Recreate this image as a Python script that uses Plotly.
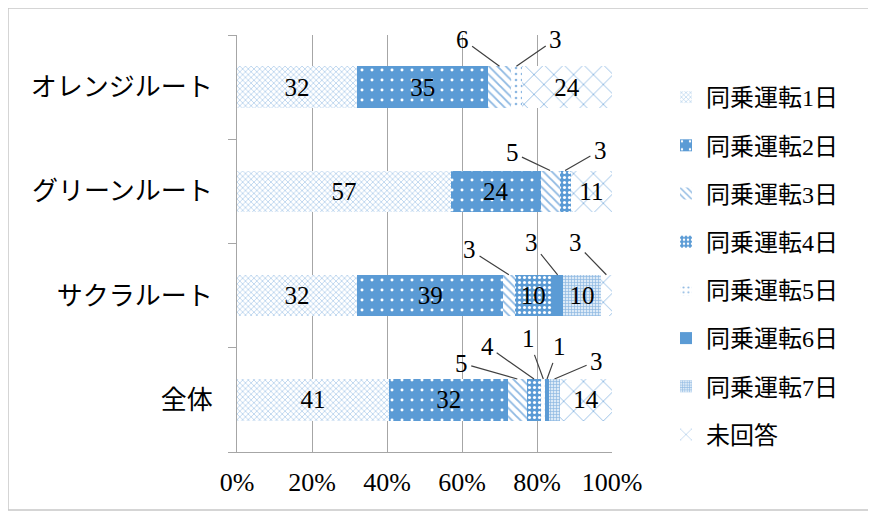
import plotly.graph_objects as go

categories = ["全体", "サクラルート", "グリーンルート", "オレンジルート"]
series_names = ["同乗運転1日", "同乗運転2日", "同乗運転3日", "同乗運転4日",
                "同乗運転5日", "同乗運転6日", "同乗運転7日", "未回答"]
day1 = [41, 32, 57, 32]
day2 = [32, 39, 24, 35]
day3 = [5, 3, 5, 6]
day4 = [4, 10, 3, 0]
day5 = [1, 0, 0, 3]
day6 = [1, 3, 0, 0]
day7 = [3, 10, 0, 0]
no_answer = [14, 3, 11, 24]
series_values = [day1, day2, day3, day4, day5, day6, day7, no_answer]
x_tick_vals = [0, 20, 40, 60, 80, 100]
x_tick_text = ["0%", "20%", "40%", "60%", "80%", "100%"]

BLUE = "#5B9BD5"
LIGHT = "#8DB8E2"
styles = [
    dict(shape="x", fgcolor=LIGHT, bgcolor="white", size=4, solidity=0.25),
    dict(shape=".", fgcolor="white", bgcolor=BLUE, size=10, solidity=0.07),
    dict(shape="\\", fgcolor=LIGHT, bgcolor="white", size=6, solidity=0.3),
    dict(shape=".", fgcolor="white", bgcolor=BLUE, size=5, solidity=0.3),
    dict(shape=".", fgcolor=LIGHT, bgcolor="white", size=6, solidity=0.15),
    dict(shape="", fgcolor=BLUE, bgcolor=BLUE, size=6, solidity=0.5),
    dict(shape="+", fgcolor=LIGHT, bgcolor="#DCEAF7", size=3, solidity=0.4),
    dict(shape="x", fgcolor=LIGHT, bgcolor="white", size=14, solidity=0.12),
]

NUMFONT = "Liberation Serif, Noto Sans CJK JP, serif"
fig = go.Figure()
for name, vals, st in zip(series_names, series_values, styles):
    txt = [str(v) if v >= 10 else "" for v in vals]
    fig.add_trace(go.Bar(
        y=categories, x=vals, name=name, orientation="h",
        legendgroup=name,
        marker=dict(color=st["bgcolor"], line=dict(width=0),
                    pattern=dict(shape=st["shape"], fgcolor=st["fgcolor"],
                                 bgcolor=st["bgcolor"], size=st["size"],
                                 solidity=st["solidity"], fillmode="replace")),
        text=txt, textposition="inside", insidetextanchor="middle",
        textangle=0, constraintext="none",
        textfont=dict(family=NUMFONT, size=25, color="black"),
        hoverinfo="name+x",
    ))

# leader-line labels for small segments (pixel offsets of the label from the segment top)
offsets = {
    (3, 2): (-37, -27), (3, 4): (39, -27),
    (2, 2): (-38, -18), (2, 3): (35, -20),
    (1, 2): (-39, -25), (1, 5): (-26, -32), (1, 7): (-31, -32),
    (0, 2): (-56, -16), (0, 3): (-47, -33), (0, 4): (-15, -41),
    (0, 5): (12, -33), (0, 6): (42, -18),
}
annotations = []
for ci, cat in enumerate(categories):
    total = sum(s[ci] for s in series_values)
    cum = 0
    for si, s in enumerate(series_values):
        v = s[ci]
        if 0 < v < 10 and (ci, si) in offsets:
            ax, ay = offsets[(ci, si)]
            annotations.append(dict(
                x=(cum + v / 2) / total * 100, y=ci + 0.2, xref="x", yref="y",
                text=str(v), showarrow=True, arrowhead=0, arrowwidth=1.2,
                arrowcolor="#404040", ax=ax, ay=ay, standoff=0, startstandoff=2,
                font=dict(family=NUMFONT, size=25, color="black")))
        cum += v

OFF = 8  # page offset of the figure inside the window
L, R, T, B = 237 - OFF, 264 + OFF, 35 - OFF, 63 + OFF
W, H = 876, 515
pw, ph = W - L - R, H - T - B

def px(xw):
    return (xw - OFF - L) / pw

def py(yw):
    return (H - B - (yw - OFF)) / ph

fig.update_layout(
    width=W, height=H,
    margin=dict(l=L, r=R, t=T, b=B, autoexpand=False),
    barmode="stack", barnorm="percent", bargap=0.6,
    plot_bgcolor="white", paper_bgcolor="white",
    font=dict(family="Liberation Serif, Noto Sans CJK JP", size=20, color="black"),
    xaxis=dict(range=[0, 100], tickvals=x_tick_vals, ticktext=x_tick_text,
               showgrid=True, gridcolor="#A6A6A6", gridwidth=1,
               showline=True, linecolor="#A6A6A6", ticks="",
               tickfont=dict(family=NUMFONT, size=26), zeroline=False,
               ticklabelstandoff=7, automargin=False, fixedrange=True),
    yaxis=dict(range=[-0.5, 3.5], showline=True, linecolor="#A6A6A6",
               ticks="outside", tickson="boundaries", ticklen=8,
               tickcolor="#A6A6A6",
               tickfont=dict(family="Noto Sans CJK JP", size=26),
               ticklabelstandoff=18, automargin=False, fixedrange=True),
    legend=dict(x=px(666), y=py(75), xanchor="left", yanchor="top",
                traceorder="grouped", tracegroupgap=14,
                font=dict(family="Liberation Serif, Noto Sans CJK JP", size=24),
                itemwidth=30, bgcolor="rgba(0,0,0,0)"),
    annotations=annotations,
    shapes=[dict(type="rect", xref="paper", yref="paper",
                 x0=px(8), x1=px(W + 20), y0=py(510), y1=py(8),
                 line=dict(color="#C8C8C8", width=1.5), layer="below")],
)

fig.write_html("out.html")
